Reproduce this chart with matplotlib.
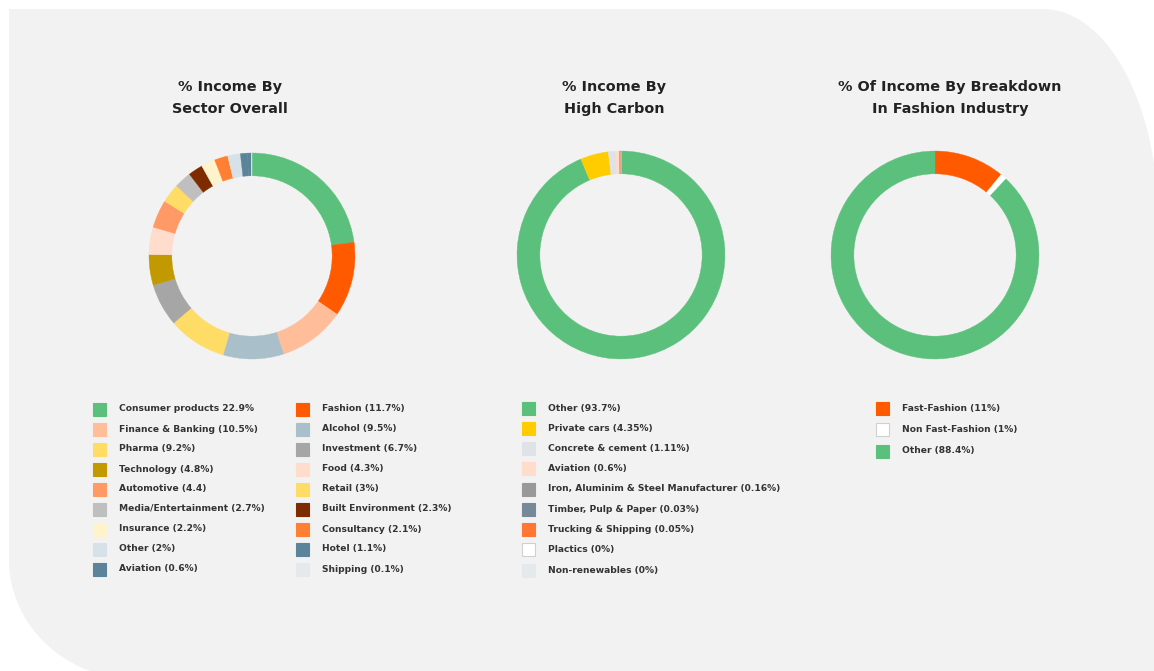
import numpy as np
import matplotlib
matplotlib.use('Agg')
import matplotlib.pyplot as plt
from matplotlib.patches import Polygon, Rectangle

W, H = 1154, 671

# chart 1 - % income by sector overall
sector_labels = ['Consumer products 22.9%', 'Fashion (11.7%)', 'Finance & Banking (10.5%)', 'Alcohol (9.5%)',
                 'Pharma (9.2%)', 'Investment (6.7%)', 'Technology (4.8%)', 'Food (4.3%)',
                 'Automotive (4.4)', 'Retail (3%)', 'Media/Entertainment (2.7%)', 'Built Environment (2.3%)',
                 'Insurance (2.2%)', 'Consultancy (2.1%)', 'Other (2%)', 'Hotel (1.1%)',
                 'Aviation (0.6%)', 'Shipping (0.1%)']
sector_values = [22.9, 11.7, 10.5, 9.5, 9.2, 6.7, 4.8, 4.3, 4.4, 3, 2.7, 2.3, 2.2, 2.1, 2, 1.1, 0.6, 0.1]
sector_colors = ['#5bc07b', '#ff5a00', '#ffbd99', '#a9bfca', '#ffdc66', '#a6a6a6', '#c29a00', '#ffdccb',
                 '#ff9966', '#ffdc66', '#bfbfbf', '#7f2b00', '#fff3cc', '#ff7f33', '#d6e1e8', '#5b8399',
                 '#5b8399', '#e4e9ec']

# chart 2 - % income by high carbon
carbon_labels = ['Other (93.7%)', 'Private cars (4.35%)', 'Concrete & cement (1.11%)', 'Aviation (0.6%)',
                 'Iron, Aluminim & Steel Manufacturer (0.16%)', 'Timber, Pulp & Paper (0.03%)',
                 'Trucking & Shipping (0.05%)', 'Plactics (0%)', 'Non-renewables (0%)']
carbon_values = [93.7, 4.35, 1.11, 0.6, 0.16, 0.03, 0.05, 0, 0]
carbon_colors = ['#5bc07b', '#ffcc00', '#dfe3e7', '#ffdccb', '#999999', '#778899', '#ff7733', '#ffffff', '#e4e9ec']

# chart 3 - fashion breakdown
fashion_labels = ['Fast-Fashion (11%)', 'Non Fast-Fashion (1%)', 'Other (88.4%)']
fashion_values = [11, 1, 88.4]
fashion_colors = ['#ff5a00', '#ffffff', '#5bc07b']

titles = ['% Income By\nSector Overall', '% Income By\nHigh Carbon', '% Of Income By Breakdown\nIn Fashion Industry']

FONT = 'DejaVu Sans'

fig = plt.figure(figsize=(W / 100, H / 100), dpi=100)
fig.patch.set_facecolor('white')


def px(x, y):
    return x / W, 1 - y / H


# background panel with two rounded corners
pts = [(9, 9), (1043, 9)]
t = np.linspace(np.pi / 2, 0, 40)
pts += list(zip(1043 + 115 * np.cos(t), 219 - 210 * np.sin(t)))
pts += [(1160, 680)]
t = np.linspace(3 * np.pi / 2, np.pi, 40)
pts += list(zip(139 + 130 * np.cos(t), 560 - 120 * np.sin(t)))
pts = [px(x, y) for x, y in pts]
fig.patches.append(Polygon(pts, closed=True, transform=fig.transFigure, facecolor='#f2f2f2',
                           edgecolor='none', zorder=-5))


def donut(cx, cy, r, values, colors):
    l, b = px(cx - r, cy + r)
    ax = fig.add_axes([l, b, 2 * r / W, 2 * r / H])
    vals = [v if v > 0 else 1e-9 for v in values]
    wedges, _ = ax.pie(vals, colors=colors, startangle=90, counterclock=False, radius=1,
                       wedgeprops=dict(width=23 / r, linewidth=0.3))
    for w in wedges:
        w.set_edgecolor(w.get_facecolor())
    ax.set_xlim(-1.01, 1.01)
    ax.set_ylim(-1.01, 1.01)
    ax.axis('off')
    ax.set_zorder(1)


def legend(labels, colors, x0, y0, dy, col_dx=None, ncol=1):
    for i, (lab, c) in enumerate(zip(labels, colors)):
        row, col = divmod(i, ncol)
        x = x0 + (col_dx * col if ncol > 1 else 0)
        y = y0 + dy * row
        l, b = px(x, y + 6.5)
        fig.patches.append(Rectangle((l, b), 13 / W, 13 / H, transform=fig.transFigure,
                                     facecolor=c, edgecolor='#d0d0d0' if c == '#ffffff' else c,
                                     linewidth=0.8, zorder=2))
        tx, ty = px(x + 26, y)
        fig.text(tx, ty, lab, fontsize=6.6, fontweight='bold', family=FONT, color='#333333',
                 va='center', ha='left')


donut(252, 256, 104, sector_values, sector_colors)
donut(621, 255, 105, carbon_values, carbon_colors)
donut(935, 255, 105, fashion_values, fashion_colors)

for (x, y), title in zip([(230, 98), (614, 98), (950, 98)], titles):
    tx, ty = px(x, y)
    fig.text(tx, ty, title, fontsize=10.4, fontweight='bold', family=FONT, color='#222222',
             ha='center', va='center', linespacing=1.65)

legend(sector_labels, sector_colors, 93, 409, 20, col_dx=203, ncol=2)
legend(carbon_labels, carbon_colors, 522, 408, 20.25)
legend(fashion_labels, fashion_colors, 876, 408, 21.5)

fig.savefig('out.png', dpi=100, facecolor=fig.get_facecolor())
